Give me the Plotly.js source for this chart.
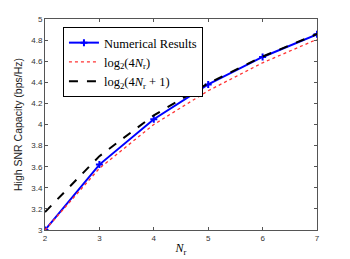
<!DOCTYPE html>
<html><head><meta charset="utf-8">
<script src="https://cdn.plot.ly/plotly-3.0.1.min.js"></script>
<style>html,body{margin:0;padding:0;background:#fff}#c{width:350px;height:259px}</style>
</head><body><div id="c"></div>
<script>
const nr = [2, 3, 4, 5, 6, 7];
const numerical = [3.0, 3.62, 4.05, 4.38, 4.64, 4.855];
const log4nr = [3.0, 3.585, 4.0, 4.32, 4.585, 4.807];
const log4nr1 = [3.17, 3.70, 4.087, 4.39, 4.644, 4.858];
const yTicks = [3, 3.2, 3.4, 3.6, 3.8, 4, 4.2, 4.4, 4.6, 4.8, 5];
const names = ['Numerical Results', 'log<sub>2</sub>(4<i>N</i><sub>r</sub>)', 'log<sub>2</sub>(4<i>N</i><sub>r</sub> + 1)'];

const traces = [
  {x: nr, y: numerical, name: names[0], mode: 'lines+markers',
   line: {color: '#0000ff', width: 2}, marker: {symbol: 'cross-thin-open', size: 5, color: '#0000ff', line: {width: 2, color: '#0000ff'}}},
  {x: nr, y: log4nr, name: names[1], mode: 'lines',
   line: {color: '#ff3333', width: 1.3, dash: 'dot'}},
  {x: nr, y: log4nr1, name: names[2], mode: 'lines',
   line: {color: '#000000', width: 2, dash: 'dash'}}
];
const axisCommon = {showgrid: false, zeroline: false, showline: true, linecolor: '#555', linewidth: 1,
  mirror: 'allticks', ticks: 'inside', ticklen: 3, tickcolor: '#555',
  tickfont: {family: 'Liberation Sans, Arial', size: 8, color: '#333'}};
const layout = {
  width: 350, height: 259,
  margin: {l: 45, r: 33, t: 19, b: 29},
  paper_bgcolor: '#fff', plot_bgcolor: '#fff',
  showlegend: true,
  legend: {x: 0.066, y: 0.962, xanchor: 'left', yanchor: 'top', bordercolor: '#000', borderwidth: 1,
    bgcolor: '#fff', font: {family: 'Liberation Serif, Times New Roman', size: 12.5, color: '#000'},
    tracegroupgap: 0, itemwidth: 30},
  xaxis: Object.assign({}, axisCommon, {range: [2, 7], tickvals: nr, ticktext: nr.map(String),
    title: {text: '<i>N</i><sub>r</sub>', standoff: 2, font: {family: 'Liberation Serif, Times New Roman', size: 12, color: '#000'}}}),
  yaxis: Object.assign({}, axisCommon, {range: [3, 5], tickvals: yTicks, ticktext: yTicks.map(String),
    title: {text: 'High SNR Capacity (bps/Hz)', standoff: 6, font: {family: 'Liberation Sans, Arial', size: 10.5, color: '#222'}}})
};
Plotly.newPlot('c', traces, layout, {displayModeBar: false, staticPlot: true});
</script></body></html>
